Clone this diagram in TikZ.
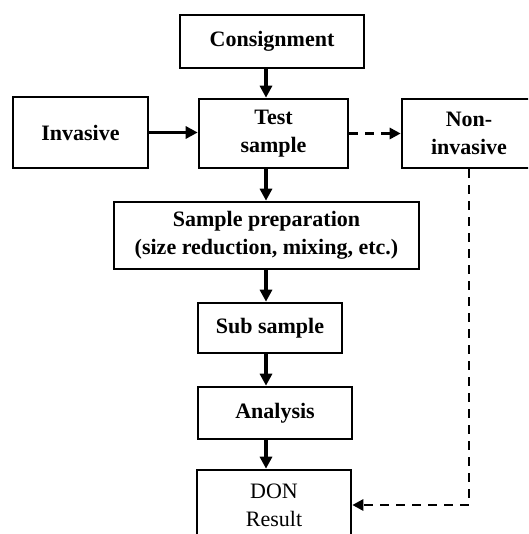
\documentclass[tikz,border=0pt]{standalone}
\usepackage{fontspec}
\setmainfont{Liberation Serif}
\usetikzlibrary{arrows.meta}
\tikzstyle{box}=[draw=black,line width=2.6pt,fill=white,align=center,inner sep=2pt,font=\bfseries\fontsize{22}{28}\selectfont]
\tikzstyle{plainbox}=[box,font=\fontsize{22}{28}\selectfont]
\newcommand{\flowbox}[6]{\node[#5,minimum width=#3,minimum height=#4] (#1) at (#2) {#6};}
\newcommand{\flowedge}[3]{ \draw[#1] (#2) -- (#3);}
\tikzset{
	solidarrow/.style={line width=3.4pt,-{Triangle[length=12pt,width=12pt]}},
	dasharrow/.style={line width=2.8pt,dash pattern=on 9pt off 7pt,-{Triangle[length=11pt,width=11pt]}},
}

\begin{document}
\begin{tikzpicture}[x=1pt,y=-1pt]
    \clip (0,0) rectangle (528,534);

    \flowbox{consign}{272,41.5}{184pt}{53pt}{box}{Consignment}
    \flowbox{invasive}{80.5,132.5}{135pt}{71pt}{box}{Invasive}
    \flowbox{test}{273.5,133.5}{149pt}{69pt}{box}{Test\\sample}
    \flowbox{noninv}{469,133.5}{134pt}{69pt}{box}{Non-\\invasive}
    \flowbox{prep}{266.5,235.5}{305pt}{67pt}{box}{Sample preparation\\(size reduction, mixing, etc.)}
    \flowbox{sub}{270,328}{144pt}{50pt}{box}{Sub sample}
    \flowbox{analysis}{275,413}{154pt}{52pt}{box}{Analysis}
    \flowbox{don}{274,505}{154pt}{70pt}{plainbox}{DON\\Result}

    \coordinate (spine) at (266,0);

    \flowedge{solidarrow}{consign.south -| spine}{test.north -| spine}
    \flowedge{solidarrow}{invasive.east}{invasive.east -| test.west}
    \flowedge{dasharrow}{test.east}{test.east -| noninv.west}
    \flowedge{solidarrow}{test.south -| spine}{prep.north -| spine}
    \flowedge{solidarrow}{prep.south -| spine}{sub.north -| spine}
    \flowedge{solidarrow}{sub.south -| spine}{analysis.north -| spine}
    \flowedge{solidarrow}{analysis.south -| spine}{don.north -| spine}
    \draw[dasharrow] (noninv.south) |- (don.east);
\end{tikzpicture}
\end{document}
